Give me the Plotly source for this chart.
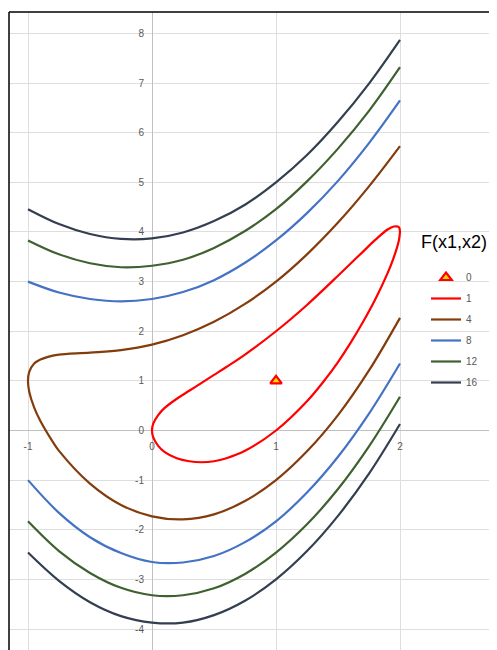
import plotly.graph_objects as go

# ---- data ----
legend_title = "F(x1,x2)"

# minimum point (level 0)
min_x = [1]
min_y = [1]

# level 1 : closed loop
lvl1_x_up = [0, 0.01, 0.05, 0.1, 0.2, 0.3, 0.4, 0.5, 0.6, 0.75, 1, 1.25, 1.4, 1.5, 1.6, 1.7, 1.8, 1.9, 1.95, 1.99, 2]
lvl1_y_up = [0, 0.14, 0.31, 0.45, 0.64, 0.80, 0.96, 1.12, 1.28, 1.53, 2.00, 2.53, 2.88, 3.12, 3.36, 3.60, 3.84, 4.05, 4.11, 4.10, 4.00]
lvl1_x_lo = [2, 1.99, 1.95, 1.9, 1.8, 1.7, 1.6, 1.5, 1.4, 1.25, 1, 0.75, 0.6, 0.5, 0.4, 0.3, 0.2, 0.1, 0.05, 0.01, 0]
lvl1_y_lo = [4.00, 3.82, 3.49, 3.17, 2.64, 2.18, 1.76, 1.38, 1.04, 0.59, 0.00, -0.41, -0.56, -0.62, -0.64, -0.62, -0.56, -0.43, -0.31, -0.14, 0]

# level 4 : one curve turning at x1 = -1
lvl4_x_up = [2, 1.75, 1.5, 1.25, 1, 0.75, 0.5, 0.25, 0, -0.25, -0.5, -0.75, -0.8, -0.9, -0.95, -0.99, -1]
lvl4_y_up = [5.73, 4.92, 4.19, 3.55, 3.00, 2.55, 2.19, 1.92, 1.73, 1.62, 1.57, 1.53, 1.51, 1.43, 1.35, 1.18, 1.00]
lvl4_x_lo = [-0.99, -0.95, -0.9, -0.8, -0.75, -0.5, -0.25, 0, 0.25, 0.5, 0.75, 1, 1.25, 1.5, 1.75, 2]
lvl4_y_lo = [0.78, 0.46, 0.19, -0.23, -0.41, -1.07, -1.50, -1.73, -1.79, -1.69, -1.42, -1.00, -0.42, 0.31, 1.21, 2.27]

# levels 8, 12, 16 : two branches on a common x1 grid
x_grid = [-1, -0.75, -0.5, -0.25, 0, 0.25, 0.5, 0.75, 1, 1.25, 1.5, 1.75, 2]
lvl8_y_up = [3.00, 2.78, 2.65, 2.60, 2.65, 2.79, 3.03, 3.38, 3.83, 4.38, 5.03, 5.79, 6.65]
lvl8_y_lo = [-1.00, -1.66, -2.15, -2.47, -2.65, -2.66, -2.53, -2.25, -1.83, -1.25, -0.53, 0.34, 1.35]
lvl12_y_up = [3.83, 3.55, 3.37, 3.29, 3.32, 3.44, 3.68, 4.02, 4.46, 5.02, 5.68, 6.44, 7.32]
lvl12_y_lo = [-1.83, -2.43, -2.87, -3.17, -3.32, -3.32, -3.18, -2.89, -2.46, -1.89, -1.18, -0.32, 0.68]
lvl16_y_up = [4.46, 4.16, 3.96, 3.86, 3.87, 3.99, 4.22, 4.55, 5.00, 5.55, 6.22, 6.99, 7.87]
lvl16_y_lo = [-2.46, -3.03, -3.46, -3.74, -3.87, -3.87, -3.72, -3.43, -3.00, -2.43, -1.72, -0.87, 0.13]

x_ticks = [-1, 0, 1, 2]
y_ticks = [-4, -3, -2, -1, 0, 1, 2, 3, 4, 5, 6, 7, 8]

# ---- figure ----
XMIN, XMAX = -1.1532, 2.7823
YMIN, YMAX = -4.423, 8.433

fig = go.Figure()

fig.add_trace(go.Scatter(
    x=min_x, y=min_y, mode="markers", name="0", legendgroup="g0",
    marker=dict(symbol="triangle-up", size=10, color="#FFD700",
                line=dict(color="#FF0000", width=2.2)),
))

def add_level(name, xs, ys, color):
    fig.add_trace(go.Scatter(
        x=xs, y=ys, mode="lines", name=name, legendgroup="g" + name,
        line=dict(color=color, width=2.2, shape="spline", smoothing=1.0),
        connectgaps=False,
    ))

add_level("1", lvl1_x_up + lvl1_x_lo, lvl1_y_up + lvl1_y_lo, "#FF0000")
add_level("4", lvl4_x_up + lvl4_x_lo, lvl4_y_up + lvl4_y_lo, "#843C0C")
add_level("8", x_grid + [None] + x_grid, lvl8_y_up + [None] + lvl8_y_lo, "#4472C4")
add_level("12", x_grid + [None] + x_grid, lvl12_y_up + [None] + lvl12_y_lo, "#3F6130")
add_level("16", x_grid + [None] + x_grid, lvl16_y_up + [None] + lvl16_y_lo, "#333F50")

tick_font = dict(family="Liberation Sans, Arial, sans-serif", size=10, color="#595959")

fig.update_layout(
    width=489, height=642,
    margin=dict(l=1, r=0, t=4, b=0),
    paper_bgcolor="white", plot_bgcolor="white",
    showlegend=True,
    legend=dict(
        x=(426 - 9) / 488, xanchor="left",
        y=1 - (255 - 4) / 638, yanchor="top",
        bgcolor="rgba(0,0,0,0)",
        font=tick_font,
        itemwidth=30,
        tracegroupgap=2,
    ),
    annotations=[
        dict(text=legend_title, xref="paper", yref="paper",
             x=(420 - 9) / 488, xanchor="left",
             y=1 - (234 - 4) / 638, yanchor="middle",
             showarrow=False, borderpad=0,
             font=dict(family="Liberation Sans, Arial, sans-serif", size=18, color="#000000")),
    ],
    xaxis=dict(
        range=[XMIN, XMAX], tickvals=x_ticks, ticktext=[str(v) for v in x_ticks],
        showgrid=True, gridcolor="#DEDEDE", gridwidth=1,
        zeroline=True, zerolinecolor="#C0C0C0", zerolinewidth=1,
        showline=False, ticks="", tickfont=tick_font,
        anchor="free", position=(0 - YMIN) / (YMAX - YMIN),
        ticklabelstandoff=8, fixedrange=True,
    ),
    yaxis=dict(
        range=[YMIN, YMAX], tickvals=y_ticks, ticktext=[str(v) for v in y_ticks],
        showgrid=True, gridcolor="#DEDEDE", gridwidth=1,
        zeroline=True, zerolinecolor="#C0C0C0", zerolinewidth=1,
        showline=False, ticks="", tickfont=tick_font,
        anchor="free", position=(0 - XMIN) / (XMAX - XMIN),
        ticklabelstandoff=8, fixedrange=True,
    ),
    shapes=[
        dict(type="line", xref="paper", yref="paper", x0=0, x1=0, y0=0, y1=1,
             line=dict(color="black", width=1.5)),
        dict(type="line", xref="paper", yref="paper", x0=0, x1=1, y0=1, y1=1,
             line=dict(color="black", width=1.5)),
    ],
)

fig.write_html("out.html")
